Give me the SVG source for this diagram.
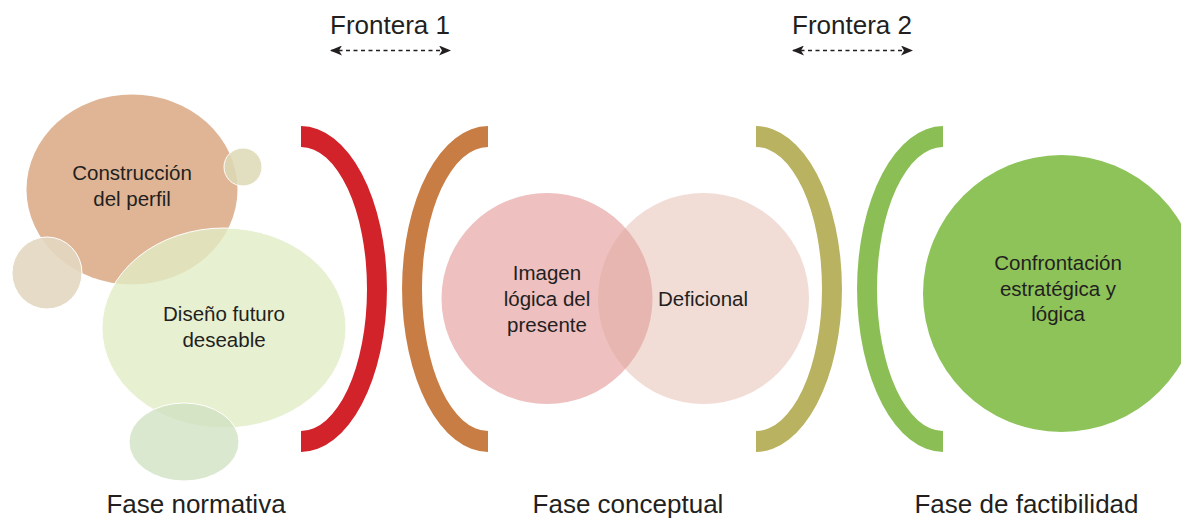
<svg xmlns="http://www.w3.org/2000/svg" width="1181" height="519" viewBox="0 0 1181 519">
<style>
text{font-family:"Liberation Sans",Arial,sans-serif;fill:#231f20;text-anchor:middle}
.lbl{font-size:20.5px}
.big{font-size:26px}
.bub{stroke:#ffffff;stroke-width:1}
.dash{stroke:#231f20;stroke-width:1.5;stroke-dasharray:4 3.5;fill:none}
</style>
<defs>
<marker id="ah" viewBox="0 0 12 10" refX="11" refY="5" markerWidth="12" markerHeight="10" markerUnits="userSpaceOnUse" orient="auto-start-reverse">
<path d="M0,0 L12,5 L0,10 L3,5 Z" fill="#231f20"/>
</marker>
</defs>
<rect width="1181" height="519" fill="#ffffff"/>
<g id="normativa">
<ellipse cx="132" cy="189.5" rx="105.5" ry="95" fill="#dfb596"/>
<circle class="bub" cx="243" cy="167" r="19" fill="#ddd9b6" fill-opacity="0.85"/>
<ellipse class="bub" cx="47" cy="273" rx="35" ry="36" fill="#e3d7c1" fill-opacity="0.9"/>
<ellipse class="bub" cx="224" cy="328" rx="122" ry="100" fill="#e1ecc4" fill-opacity="0.8"/>
<ellipse class="bub" cx="184" cy="442" rx="55" ry="39" fill="#cfe0c0" fill-opacity="0.75"/>
<text class="lbl" x="132" y="180">Construcción</text>
<text class="lbl" x="132" y="206">del perfil</text>
<text class="lbl" x="224" y="321">Diseño futuro</text>
<text class="lbl" x="224" y="347">deseable</text>
<text class="big" x="196" y="513">Fase normativa</text>
</g>
<g id="brackets">
<path d="M301,126 A86,163 0 0 1 301,452 L301,431 A66,142 0 0 0 301,147 Z" fill="#d2232a"/>
<path d="M488,126 A86,163 0 0 0 488,452 L488,431 A66,142 0 0 1 488,147 Z" fill="#c87d45"/>
<path d="M756,126 A86,163 0 0 1 756,452 L756,431 A66,142 0 0 0 756,147 Z" fill="#b9b260"/>
<path d="M943,126 A86,163 0 0 0 943,452 L943,431 A66,142 0 0 1 943,147 Z" fill="#8bbf56"/>
</g>
<g id="conceptual">
<circle cx="547" cy="298.5" r="105.5" fill="#eec0c0"/>
<circle cx="703.5" cy="298.5" r="105.5" fill="#dca798" fill-opacity="0.4"/>
<text class="lbl" x="547" y="280">Imagen</text>
<text class="lbl" x="547" y="306">lógica del</text>
<text class="lbl" x="547" y="332">presente</text>
<text class="lbl" x="703" y="306">Deficional</text>
<text class="big" x="628" y="513">Fase conceptual</text>
</g>
<g id="factibilidad">
<circle cx="1061.5" cy="293.5" r="138.5" fill="#8dc359"/>
<text class="lbl" x="1058" y="270">Confrontación</text>
<text class="lbl" x="1058" y="296">estratégica y</text>
<text class="lbl" x="1058" y="321">lógica</text>
<text class="big" x="1026.5" y="513">Fase de factibilidad</text>
</g>
<g id="frontera1">
<text class="big" x="390" y="34">Frontera 1</text>
</g>
<g id="frontera2">
<text class="big" x="852" y="34">Frontera 2</text>
</g>
<g id="connectors">
<line class="dash" x1="331" y1="50.5" x2="450" y2="50.5" marker-start="url(#ah)" marker-end="url(#ah)"/>
<line class="dash" x1="793" y1="50.5" x2="912" y2="50.5" marker-start="url(#ah)" marker-end="url(#ah)"/>
</g>
</svg>
